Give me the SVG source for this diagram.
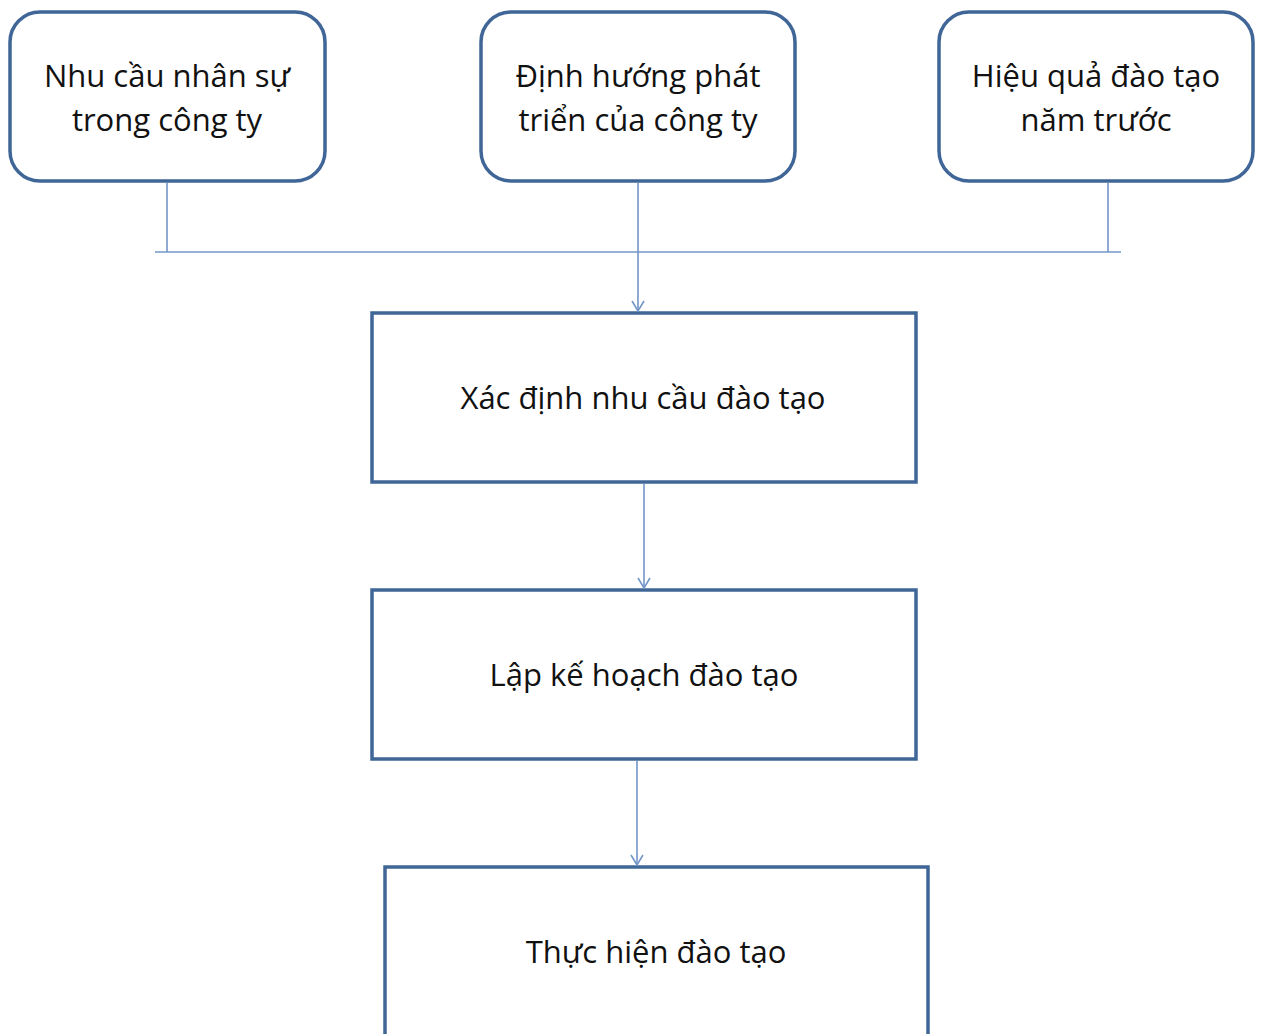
<svg xmlns="http://www.w3.org/2000/svg" width="1261" height="1034" viewBox="0 0 1261 1034">
<style>
.box{fill:#fff;stroke:#3f6696;stroke-width:3.5}
.t{font-family:"Open Sans","Noto Sans",sans-serif;font-size:31px;fill:#111;text-anchor:middle}
.c{stroke:#7396c9;stroke-width:1.6;fill:none}
</style>
<defs>
<marker id="ah" viewBox="0 0 14 14" refX="13" refY="7" markerWidth="14" markerHeight="14" markerUnits="userSpaceOnUse" orient="auto">
<path d="M3,1 L13,7 L3,13" fill="none" stroke="#7396c9" stroke-width="1.6"/>
</marker>
</defs>
<rect width="1261" height="1034" fill="#fff"/>
<g id="n1">
<rect class="box" x="10" y="12" width="315" height="169" rx="30"/>
<text class="t" x="167" y="87">Nhu cầu nhân sự</text>
<text class="t" x="167" y="131">trong công ty</text>
</g>
<g id="n2">
<rect class="box" x="481" y="12" width="314" height="169" rx="30"/>
<text class="t" x="638" y="87">Định hướng phát</text>
<text class="t" x="638" y="131">triển của công ty</text>
</g>
<g id="n3">
<rect class="box" x="939" y="12" width="314" height="169" rx="30"/>
<text class="t" x="1096" y="87">Hiệu quả đào tạo</text>
<text class="t" x="1096" y="131">năm trước</text>
</g>
<g id="n4">
<rect class="box" x="372" y="313" width="544" height="169"/>
<text class="t" x="643" y="409">Xác định nhu cầu đào tạo</text>
</g>
<g id="n5">
<rect class="box" x="372" y="590" width="544" height="169"/>
<text class="t" x="644" y="686">Lập kế hoạch đào tạo</text>
</g>
<g id="n6">
<rect class="box" x="385" y="867" width="543" height="190"/>
<text class="t" x="656" y="963">Thực hiện đào tạo</text>
</g>
<g id="connectors">
<line class="c" x1="155" y1="252" x2="1121" y2="252"/>
<line class="c" x1="167" y1="183" x2="167" y2="252"/>
<line class="c" x1="1108" y1="183" x2="1108" y2="252"/>
<path class="c" d="M638,183 V311" marker-end="url(#ah)"/>
<path class="c" d="M644,484 V588" marker-end="url(#ah)"/>
<path class="c" d="M637,761 V865" marker-end="url(#ah)"/>
</g>
</svg>
